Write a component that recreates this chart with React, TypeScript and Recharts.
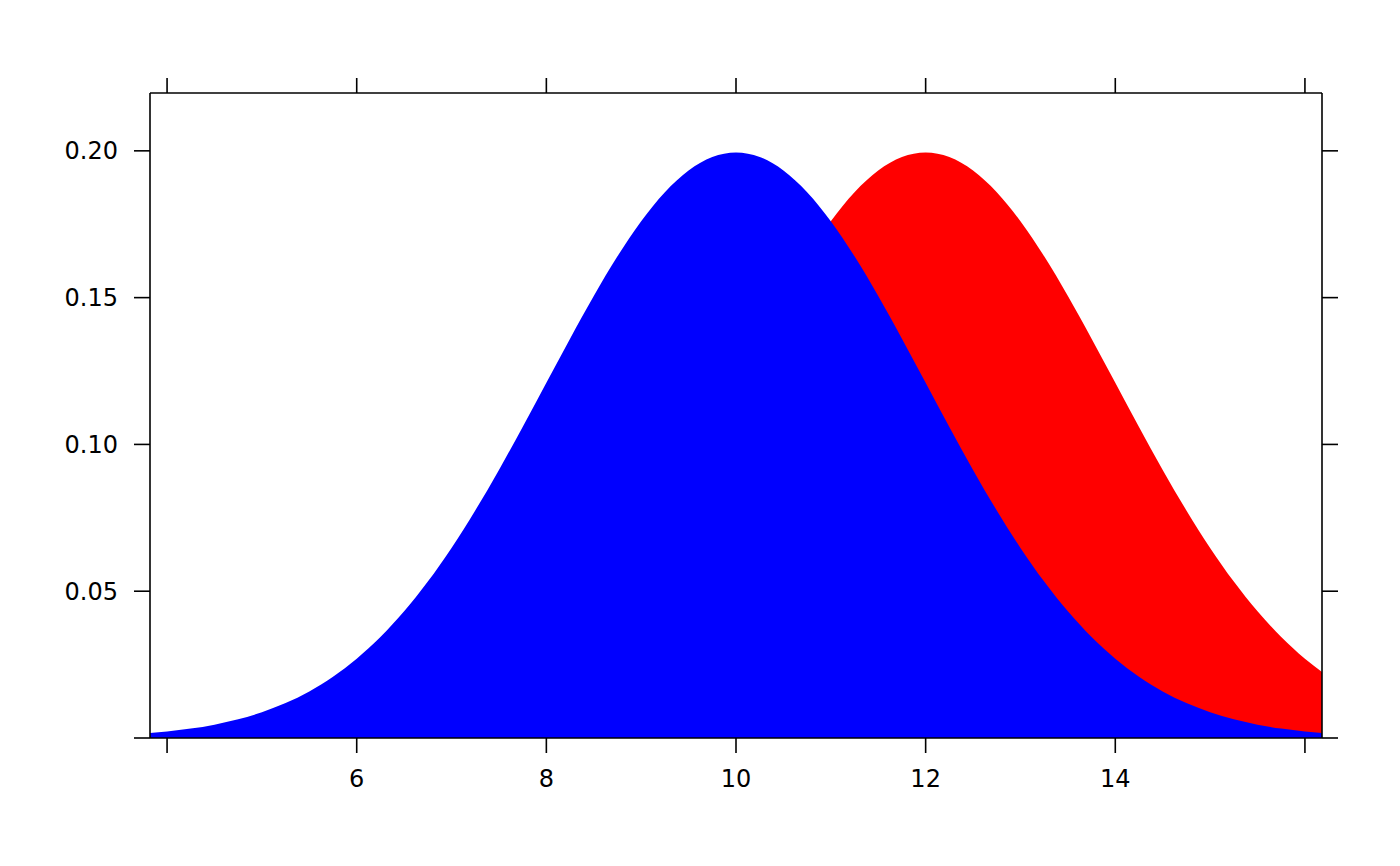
import React from 'react';
import { AreaChart, Area, XAxis, YAxis } from 'recharts';

const xs = [
  3.82, 4, 4.25, 4.5, 4.75, 5, 5.25, 5.5, 5.75, 6, 6.25, 6.5, 6.75, 7, 7.25, 7.5, 7.75,
  8, 8.25, 8.5, 8.75, 9, 9.25, 9.5, 9.75, 10, 10.25, 10.5, 10.75, 11, 11.25, 11.5, 11.75,
  12, 12.25, 12.5, 12.75, 13, 13.25, 13.5, 13.75, 14, 14.25, 14.5, 14.75, 15, 15.25, 15.5,
  15.75, 16, 16.18,
];

// blue curve, peak at 10
const blueValues = [
  0.00168, 0.00222, 0.0032, 0.00455, 0.00636, 0.00876, 0.01188, 0.01587, 0.02086, 0.027,
  0.03439, 0.04314, 0.05327, 0.06476, 0.07751, 0.09132, 0.10594, 0.12099, 0.13603, 0.15057,
  0.16408, 0.17603, 0.18593, 0.19333, 0.19792, 0.19947, 0.19792, 0.19333, 0.18593, 0.17603,
  0.16408, 0.15057, 0.13603, 0.12099, 0.10594, 0.09132, 0.07751, 0.06476, 0.05327, 0.04314,
  0.03439, 0.027, 0.02086, 0.01587, 0.01188, 0.00876, 0.00636, 0.00455, 0.0032, 0.00222,
  0.00168,
];

// red curve, peak at 12
const redValues = [
  0.00005, 0.00007, 0.00011, 0.00018, 0.00028, 0.00044, 0.00067, 0.00102, 0.00151, 0.00222,
  0.0032, 0.00455, 0.00636, 0.00876, 0.01188, 0.01587, 0.02086, 0.027, 0.03439, 0.04314,
  0.05327, 0.06476, 0.07751, 0.09132, 0.10594, 0.12099, 0.13603, 0.15057, 0.16408, 0.17603,
  0.18593, 0.19333, 0.19792, 0.19947, 0.19792, 0.19333, 0.18593, 0.17603, 0.16408, 0.15057,
  0.13603, 0.12099, 0.10594, 0.09132, 0.07751, 0.06476, 0.05327, 0.04314, 0.03439, 0.027,
  0.02246,
];

const xTicks = [4, 6, 8, 10, 12, 14, 16];
const xLabelled = [6, 8, 10, 12, 14];
const yTicks = [0, 0.05, 0.1, 0.15, 0.2];

const data = xs.map((x, i) => ({ x, blue: blueValues[i], red: redValues[i] }));

const axisLine = { stroke: '#000', strokeWidth: 1.6 };
const tickStyle = { fill: '#000', fontSize: 24, fontFamily: 'DejaVu Sans' };
const blank = () => '';

const App: React.FC = () => {
  return (
    <div style={{ position: 'absolute', left: 0, top: 0, background: '#fff' }}>
      <AreaChart width={1400} height={866} data={data} margin={{ top: 0, right: 0, bottom: 0, left: 0 }}>
        <XAxis
          xAxisId="bottom"
          dataKey="x"
          type="number"
          domain={[3.82, 16.18]}
          allowDataOverflow
          ticks={xTicks}
          interval={0}
          height={128}
          axisLine={axisLine}
          tickLine={axisLine}
          tickSize={15}
          tickMargin={17}
          tick={tickStyle}
          tickFormatter={(v: number) => (xLabelled.includes(v) ? String(v) : '')}
        />
        <XAxis
          xAxisId="top"
          orientation="top"
          dataKey="x"
          type="number"
          domain={[3.82, 16.18]}
          allowDataOverflow
          ticks={xTicks}
          interval={0}
          height={93}
          axisLine={axisLine}
          tickLine={axisLine}
          tickSize={15}
          tick={tickStyle}
          tickFormatter={blank}
        />
        <YAxis
          yAxisId="left"
          type="number"
          domain={[0, 0.2197]}
          allowDataOverflow
          ticks={yTicks}
          interval={0}
          width={150}
          axisLine={axisLine}
          tickLine={axisLine}
          tickSize={16}
          tickMargin={16}
          tick={tickStyle}
          tickFormatter={(v: number) => (v === 0 ? '' : v.toFixed(2))}
        />
        <YAxis
          yAxisId="right"
          orientation="right"
          type="number"
          domain={[0, 0.2197]}
          allowDataOverflow
          ticks={yTicks}
          interval={0}
          width={78}
          axisLine={axisLine}
          tickLine={axisLine}
          tickSize={16}
          tick={tickStyle}
          tickFormatter={blank}
        />
        <Area
          xAxisId="bottom"
          yAxisId="left"
          type="monotone"
          dataKey="red"
          stroke="none"
          fill="#ff0000"
          fillOpacity={1}
          isAnimationActive={false}
        />
        <Area
          xAxisId="bottom"
          yAxisId="left"
          type="monotone"
          dataKey="blue"
          stroke="none"
          fill="#0000ff"
          fillOpacity={1}
          isAnimationActive={false}
        />
      </AreaChart>
    </div>
  );
};

export default App;
